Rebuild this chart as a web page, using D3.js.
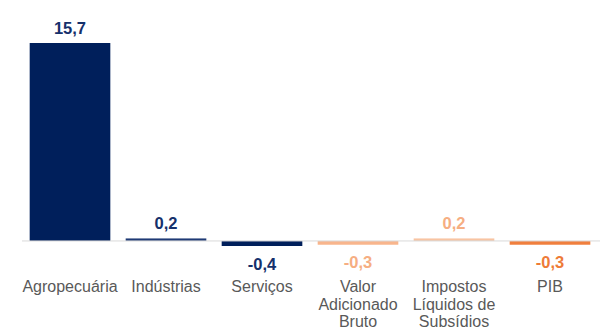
<!DOCTYPE html>
<html>
<head>
<meta charset="utf-8">
<script src="https://cdn.jsdelivr.net/npm/d3@7"></script>
<style>
  body { margin: 0; background: #fff; }
  text { font-family: "Liberation Sans", Arial, sans-serif; }
</style>
</head>
<body>
<div id="chart"></div>
<script>
// Data
const categories = [["Agropecuária"], ["Indústrias"], ["Serviços"], ["Valor", "Adicionado", "Bruto"], ["Impostos", "Líquidos de", "Subsídios"], ["PIB"]];
const values = [15.7, 0.2, -0.4, -0.3, 0.2, -0.3];
const barColors = ["#001F5B", "#1F3A75", "#001F5B", "#F8B58C", "#F8C4A2", "#F07F3D"];
const labelColors = ["#15306B", "#15306B", "#15306B", "#F6AE82", "#F6AE82", "#EE7B37"];

const width = 609, height = 334;

const svg = d3.select("#chart")
    .append("svg")
    .attr("width", width)
    .attr("height", height);

const x = d3.scaleBand()
    .domain(d3.range(values.length))
    .range([22, 598])
    .paddingInner(0.16)
    .paddingOuter(0.08);

const y = d3.scaleLinear()
    .domain([-0.4, 15.7])
    .range([246, 43]);

// bars
svg.append("g")
    .selectAll("rect")
    .data(values)
    .enter()
    .append("rect")
    .attr("x", (d, i) => x(i))
    .attr("width", x.bandwidth())
    .attr("y", d => y(Math.max(0, d)))
    .attr("height", d => Math.abs(y(d) - y(0)))
    .attr("fill", (d, i) => barColors[i]);

// zero line
svg.append("line")
    .attr("x1", 22)
    .attr("x2", 600)
    .attr("y1", y(0))
    .attr("y2", y(0))
    .attr("stroke", "#D9D9D9")
    .attr("stroke-width", 1);

// value labels
svg.append("g")
    .selectAll("text")
    .data(values)
    .enter()
    .append("text")
    .attr("x", (d, i) => x(i) + x.bandwidth() / 2)
    .attr("y", d => d >= 0 ? y(d) - 9.5 : y(d) + 23.5)
    .attr("text-anchor", "middle")
    .attr("font-size", 16.5)
    .attr("font-weight", "bold")
    .attr("fill", (d, i) => labelColors[i])
    .text(d => d.toFixed(1).replace(".", ","));

// category labels
const cat = svg.append("g")
    .selectAll("text")
    .data(categories)
    .enter()
    .append("text")
    .attr("text-anchor", "middle")
    .attr("font-size", 16)
    .attr("fill", "#595959");

cat.each(function (lines, i) {
    d3.select(this).selectAll("tspan")
        .data(lines)
        .enter()
        .append("tspan")
        .attr("x", x(i) + x.bandwidth() / 2)
        .attr("y", (l, j) => 292 + j * 17.5)
        .text(l => l);
});
</script>
</body>
</html>
